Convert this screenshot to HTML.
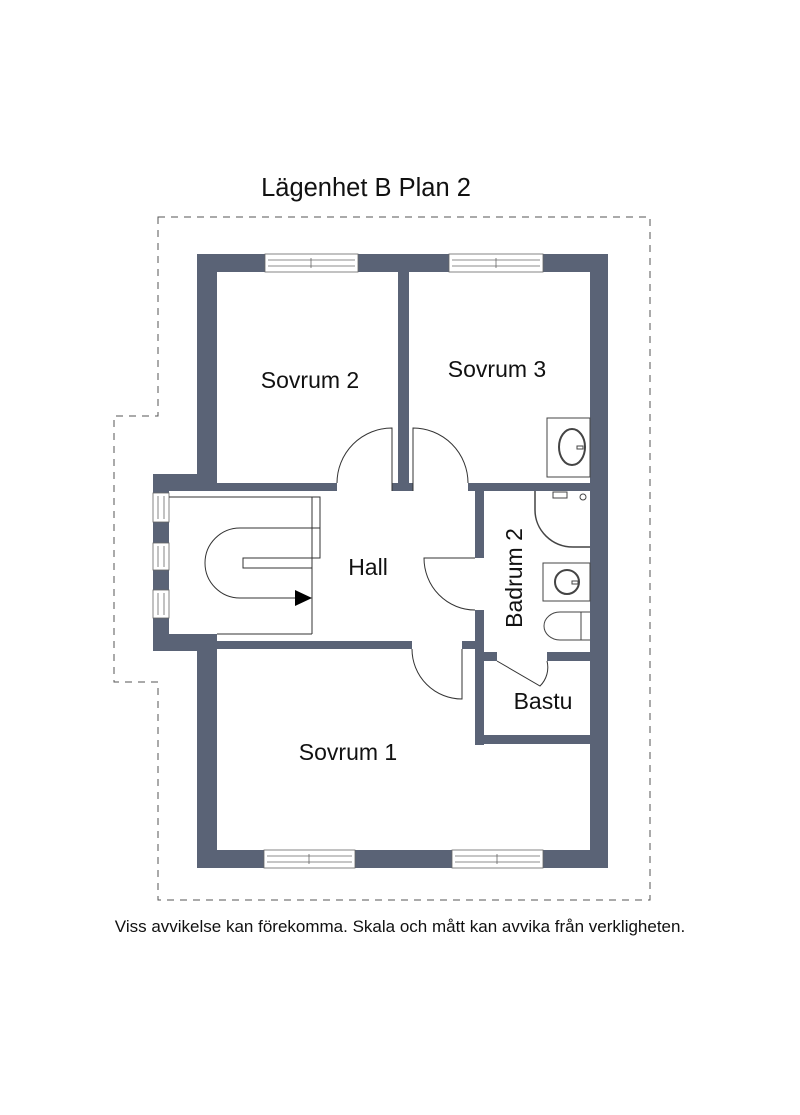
<!DOCTYPE html>
<html><head><meta charset="utf-8"><style>
html,body{margin:0;padding:0;background:#fff;}
svg{display:block;}
text{font-family:"Liberation Sans",Arial,sans-serif;fill:#111;}
</style></head><body>
<svg width="800" height="1115" viewBox="0 0 800 1115" xmlns="http://www.w3.org/2000/svg">
<rect width="800" height="1115" fill="#fff"/>
<text x="366" y="196" font-size="25.5" text-anchor="middle">Lägenhet B Plan 2</text>
<!-- dashed outline -->
<path d="M158 217 H650 V900 H158 V682 H114 V416 H158 Z" fill="none" stroke="#555" stroke-width="1" stroke-dasharray="7,6"/>
<g fill="#5a6376">
<rect x="197" y="254" width="411" height="18"/>
<rect x="197" y="254" width="20" height="237"/>
<rect x="153" y="474" width="64" height="17"/>
<rect x="153" y="474" width="16" height="177"/>
<rect x="153" y="634" width="64" height="17"/>
<rect x="197" y="634" width="20" height="234"/>
<rect x="197" y="850" width="411" height="18"/>
<rect x="590" y="254" width="18" height="614"/>
<rect x="398" y="272" width="11" height="219"/>
<rect x="217" y="483" width="120" height="8"/>
<rect x="392" y="483" width="21" height="8"/>
<rect x="468" y="483" width="122" height="8"/>
<rect x="475" y="483" width="9" height="75"/>
<rect x="475" y="610" width="9" height="135"/>
<rect x="217" y="641" width="195" height="8"/>
<rect x="462" y="641" width="22" height="8"/>
<rect x="484" y="652" width="13" height="9"/>
<rect x="547" y="652" width="43" height="9"/>
<rect x="475" y="735" width="115" height="9"/>
</g>
<!-- windows -->
<g fill="#fff" stroke="#666" stroke-width="0.8">
<rect x="265" y="254" width="93" height="18"/>
<line x1="268" y1="260" x2="355" y2="260"/><line x1="268" y1="266" x2="355" y2="266"/><line x1="311" y1="258" x2="311" y2="268"/>
<rect x="449" y="254" width="94" height="18"/>
<line x1="452" y1="260" x2="540" y2="260"/><line x1="452" y1="266" x2="540" y2="266"/><line x1="496" y1="258" x2="496" y2="268"/>
<rect x="264" y="850" width="91" height="18"/>
<line x1="267" y1="856" x2="352" y2="856"/><line x1="267" y1="862" x2="352" y2="862"/><line x1="309" y1="854" x2="309" y2="864"/>
<rect x="452" y="850" width="91" height="18"/>
<line x1="455" y1="856" x2="540" y2="856"/><line x1="455" y1="862" x2="540" y2="862"/><line x1="497" y1="854" x2="497" y2="864"/>
<rect x="153" y="493" width="16" height="29"/><line x1="158" y1="496" x2="158" y2="519"/><line x1="164" y1="496" x2="164" y2="519"/>
<rect x="153" y="543" width="16" height="27"/><line x1="158" y1="546" x2="158" y2="567"/><line x1="164" y1="546" x2="164" y2="567"/>
<rect x="153" y="590" width="16" height="28"/><line x1="158" y1="593" x2="158" y2="615"/><line x1="164" y1="593" x2="164" y2="615"/>
</g>
<!-- doors -->
<g fill="none" stroke="#333" stroke-width="1">
<path d="M392 491 V428 A55 55 0 0 0 337 483"/>
<path d="M413 491 V428 A55 55 0 0 1 468 483"/>
<path d="M475 558 H424 A51 52 0 0 0 475 610"/>
<path d="M462 649 V699 A50 50 0 0 1 412 649"/>
<path d="M497 661 L540 686 A26 26 0 0 0 547 661"/>
</g>
<!-- stairs -->
<g fill="none" stroke="#333" stroke-width="1">
<polyline points="169,497 320,497 320,558 243,558 243,568 312,568"/>
<line x1="312" y1="497" x2="312" y2="634"/>
<line x1="217" y1="634" x2="312" y2="634"/>
<path d="M320 528 H240 A35 35 0 0 0 240 598 H296"/>
</g>
<polygon points="295,590 312,598 295,606" fill="#000"/>
<!-- fixtures -->
<g fill="none" stroke="#444" stroke-width="1">
<rect x="547" y="418" width="43" height="59"/>
<ellipse cx="572" cy="447" rx="13" ry="18" stroke-width="2"/>
<rect x="577" y="446" width="6" height="3" fill="#fff"/>
<path d="M535 491 V510 A38 37 0 0 0 573 547 H590" stroke-width="1.5"/>
<circle cx="583" cy="497" r="3"/>
<rect x="553" y="492" width="14" height="6"/>
<rect x="543" y="563" width="47" height="38"/>
<circle cx="567" cy="582" r="12" stroke-width="2"/>
<rect x="572" y="581" width="6" height="3" fill="#fff"/>
<path d="M590 612 H560 A16 14 0 0 0 560 640 H590" stroke-width="1"/>
<line x1="581" y1="612" x2="581" y2="640"/>
</g>
<!-- labels -->
<text x="310" y="388" font-size="23" text-anchor="middle">Sovrum 2</text>
<text x="497" y="377" font-size="23" text-anchor="middle">Sovrum 3</text>
<text x="368" y="575" font-size="23" text-anchor="middle">Hall</text>
<text x="522" y="578" font-size="23" text-anchor="middle" transform="rotate(-90 522 578)">Badrum 2</text>
<text x="543" y="709" font-size="23" text-anchor="middle">Bastu</text>
<text x="348" y="760" font-size="23" text-anchor="middle">Sovrum 1</text>
<text x="400" y="932" font-size="17" text-anchor="middle">Viss avvikelse kan förekomma. Skala och mått kan avvika från verkligheten.</text>
</svg>
</body></html>
